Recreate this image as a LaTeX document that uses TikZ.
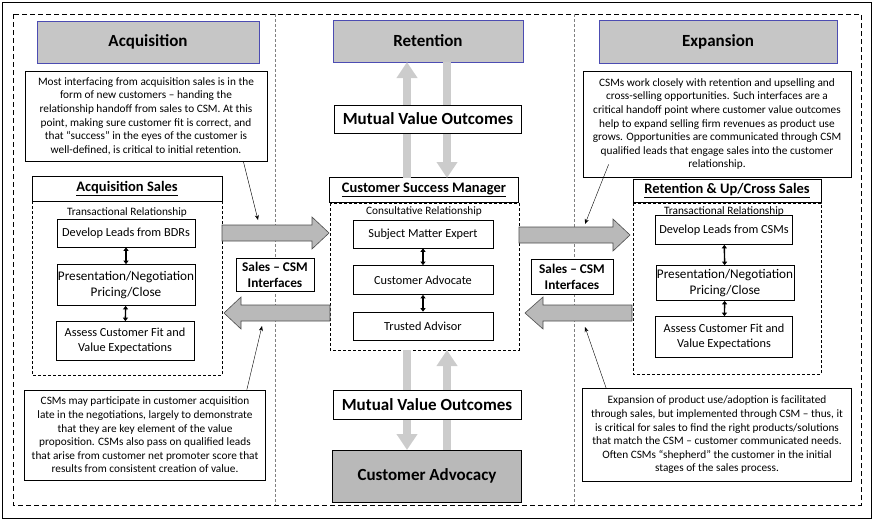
\documentclass[tikz,border=0pt]{standalone}
\usepackage{fontspec}
\setmainfont{Carlito}
\usetikzlibrary{arrows.meta}
\begin{document}
\begin{tikzpicture}[x=1pt,y=-1pt,
  note/.style={draw,fill=white,line width=0.7pt,align=center,font=\fontsize{11.3}{13.6}\selectfont,inner sep=2pt},
  hdr/.style={draw=blue!40!gray,fill=gray!45,line width=0.8pt,font=\fontsize{17}{20}\selectfont\bfseries},
  ttl/.style={draw,fill=white,line width=0.7pt,font=\fontsize{14.5}{17}\selectfont\bfseries},
  stepbox/.style={draw,fill=white,line width=0.7pt,align=center,font=\fontsize{12.3}{15}\selectfont},
  bigstep/.style={draw,fill=white,line width=0.7pt,align=center,font=\fontsize{13.2}{16.5}\selectfont,inner xsep=1pt},
  rel/.style={font=\fontsize{11.3}{13}\selectfont},
  mvo/.style={draw,fill=white,line width=0.7pt,font=\fontsize{17}{20}\selectfont\bfseries},
  sal/.style={draw,fill=white,line width=0.7pt,align=center,font=\fontsize{13.3}{16}\selectfont\bfseries},
  body/.style={draw,densely dashed,line width=0.5pt},
  dbl/.style={{Triangle[length=3.5pt,width=5pt]}-{Triangle[length=3.5pt,width=5pt]},line width=1.4pt},
  thin/.style={-{Stealth[length=5pt,width=4pt]},line width=0.4pt},
  garr/.style={line width=8pt,draw=gray!40,-{Triangle[length=16pt,width=20pt]}},
  fat/.style={fill=gray!55,draw=black!70,line width=0.6pt}]
\useasboundingbox (0,0) rectangle (874,522);
\draw[line width=0.8pt] (2,2) rectangle (871,518);
\draw[dashed,line width=0.6pt,dash pattern=on 5pt off 3pt] (13,14) rectangle (861,505);
\draw[densely dashed,line width=0.4pt,gray] (275,14) -- (275,505);
\draw[densely dashed,line width=0.4pt,gray] (574,14) -- (574,505);
% headers
\node[hdr,minimum width=222pt,minimum height=42pt] (hA) at (148,42) {Acquisition};
\node[hdr,minimum width=190pt,minimum height=42pt] (hR) at (428,41) {Retention};
\node[hdr,minimum width=238pt,minimum height=43pt] (hE) at (718,42) {Expansion};
% notes
\node[note,minimum width=242pt,minimum height=90pt] (n1) at (146,116) {Most interfacing from acquisition sales is in the\\form of new customers -- handing the\\relationship handoff from sales to CSM. At this\\point, making sure customer fit is correct, and\\that “success” in the eyes of the customer is\\well-defined, is critical to initial retention.};
\node[note,minimum width=241pt,minimum height=90pt] (n2) at (145,435) {CSMs may participate in customer acquisition\\late in the negotiations, largely to demonstrate\\that they are key element of the value\\proposition. CSMs also pass on qualified leads\\that arise from customer net promoter score that\\results from consistent creation of value.};
\node[note,minimum width=268pt,minimum height=106pt] (n3) at (717,124) {CSMs work closely with retention and upselling and\\cross-selling opportunities. Such interfaces are a\\critical handoff point where customer value outcomes\\help to expand selling firm revenues as product use\\grows. Opportunities are communicated through CSM\\qualified leads that engage sales into the customer\\relationship.};
\node[note,minimum width=269pt,minimum height=93pt] (n4) at (717,435) {Expansion of product use/adoption is facilitated\\through sales, but implemented through CSM -- thus, it\\is critical for sales to find the right products/solutions\\that match the CSM -- customer communicated needs.\\Often CSMs “shepherd” the customer in the initial\\stages of the sales process.};
% left column
\draw[body] (32,201) rectangle (222,375);
\node[ttl,minimum width=190pt,minimum height=25pt] (tA) at (127,189) {\underline{Acquisition Sales}};
\node[rel] (rA) at (127,212) {Transactional Relationship};
\node[stepbox,minimum width=138pt,minimum height=28pt] (a1) at (126,233) {Develop Leads from BDRs};
\node[bigstep,minimum width=137pt,minimum height=41pt] (a2) at (126,285) {Presentation/Negotiation\\Pricing/Close};
\node[stepbox,minimum width=138pt,minimum height=39pt] (a3) at (125,341) {Assess Customer Fit and\\Value Expectations};
\draw[dbl] (a1) -- (a2); \draw[dbl] (a2) -- (a3);
% center
\draw[body] (330,203) rectangle (519,350);
\node[ttl,minimum width=189pt,minimum height=25pt] (tC) at (424,190) {\underline{Customer Success Manager}};
\node[rel] (rC) at (424,211) {Consultative Relationship};
\node[stepbox,minimum width=140pt,minimum height=28pt] (c1) at (423,234) {Subject Matter Expert};
\node[stepbox,minimum width=140pt,minimum height=29pt] (c2) at (423,280) {Customer Advocate};
\node[stepbox,minimum width=140pt,minimum height=28pt] (c3) at (423,326) {Trusted Advisor};
\draw[dbl] (c1) -- (c2); \draw[dbl] (c2) -- (c3);
% right column
\draw[body] (633,203) rectangle (821,374);
\node[ttl,minimum width=188pt,minimum height=23pt] (tR) at (727,191) {\underline{Retention \& Up/Cross Sales}};
\node[rel] (rR) at (724,211) {Transactional Relationship};
\node[stepbox,minimum width=137pt,minimum height=29pt] (r1) at (724,230) {Develop Leads from CSMs};
\node[bigstep,minimum width=136pt,minimum height=35pt,inner ysep=1pt] (r2) at (725,283) {Presentation/Negotiation\\Pricing/Close};
\node[stepbox,minimum width=137pt,minimum height=41pt] (r3) at (724,337) {Assess Customer Fit and\\Value Expectations};
\draw[dbl] (r1) -- (r2); \draw[dbl] (r2) -- (r3);
% gray vertical arrows
\coordinate (u1) at (407,178); \coordinate (u2) at (407,62);
\coordinate (d1) at (447,62); \coordinate (d2) at (447,178);
\draw[garr] (u1) -- (u2); \draw[garr] (d1) -- (d2);
\coordinate (u3) at (407,350); \coordinate (u4) at (407,450);
\coordinate (d3) at (447,450); \coordinate (d4) at (447,350);
\draw[garr] (u3) -- (u4); \draw[garr] (d3) -- (d4);
\node[mvo,minimum width=187pt,minimum height=28pt] (m1) at (428,119) {Mutual Value Outcomes};
\node[mvo,minimum width=188pt,minimum height=29pt] (m2) at (427,405) {Mutual Value Outcomes};
\node[draw,fill=gray!55,line width=0.8pt,minimum width=189pt,minimum height=52pt,font=\fontsize{17}{20}\selectfont\bfseries] (adv) at (427,476) {Customer Advocacy};
% fat horizontal arrows
\draw[fat] (222,225)--(312,225)--(312,217)--(329,233)--(312,249)--(312,241)--(222,241)--cycle;
\draw[fat] (330,305)--(241,305)--(241,297)--(224,313)--(241,329)--(241,321)--(330,321)--cycle;
\draw[fat] (519,227)--(613,227)--(613,219)--(630,235)--(613,251)--(613,243)--(519,243)--cycle;
\draw[fat] (632,305)--(543,305)--(543,297)--(525,313)--(543,329)--(543,321)--(632,321)--cycle;
\node[sal,minimum width=78pt,minimum height=33pt] (s1) at (275,275) {Sales -- CSM\\Interfaces};
\node[sal,minimum width=82pt,minimum height=35pt] (s2) at (572,277) {Sales -- CSM\\Interfaces};
% thin pointer arrows
\coordinate (p1) at (258,220); \coordinate (p2) at (262,326);
\coordinate (p3) at (585,224); \coordinate (p4) at (585,327);
\draw[thin] (n1.south east) ++(-24,0) -- (p1);
\draw[thin] (n2.north east) ++(-19,0) -- (p2);
\draw[thin] (n3.south west) ++(26,-13) -- (p3);
\draw[thin] (n4.north west) ++(24,0) -- (p4);
\end{tikzpicture}
\end{document}
